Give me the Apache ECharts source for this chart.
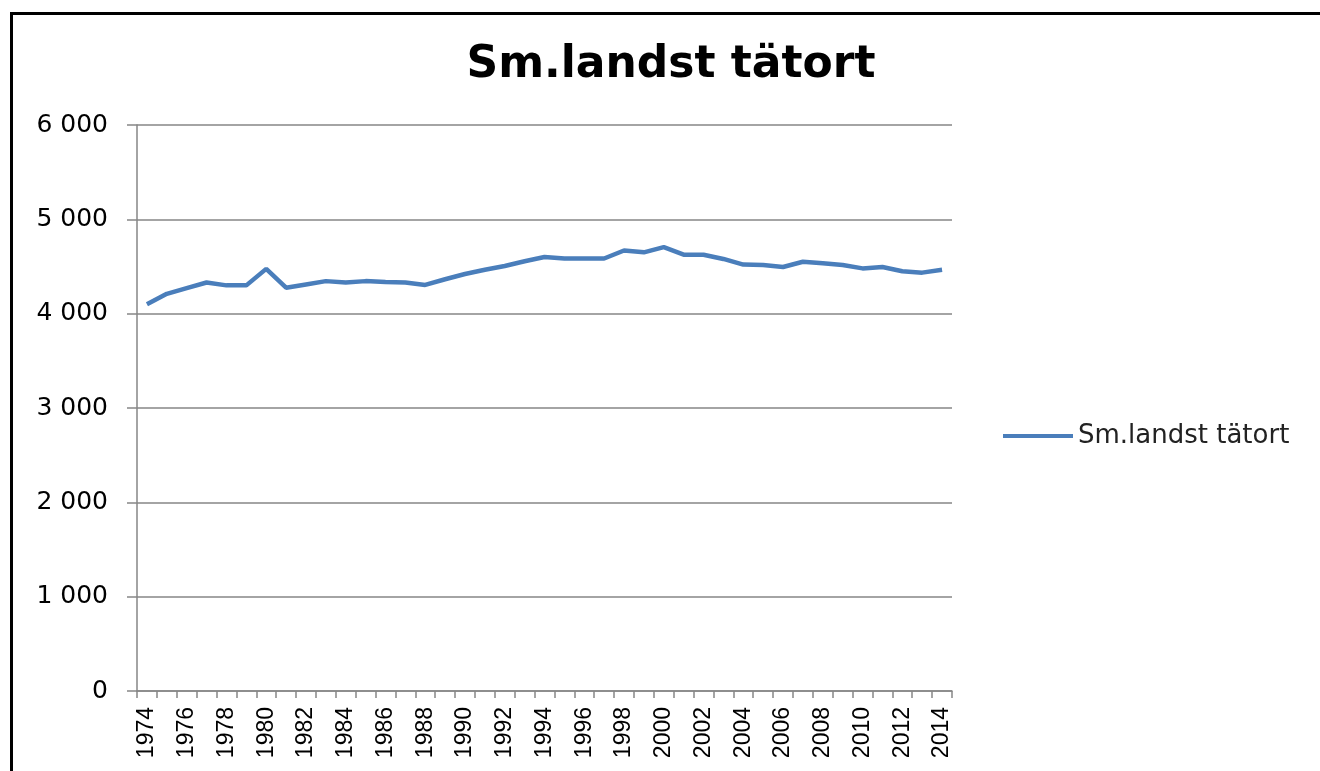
<!DOCTYPE html>
<html>
<head>
<meta charset="utf-8">
<title>Sm.landst tätort</title>
<script src="https://cdn.jsdelivr.net/npm/echarts@6/dist/echarts.min.js"></script>
<style>
  html, body { margin: 0; padding: 0; background: #fff; }
  #chart { width: 1320px; height: 771px; }
</style>
</head>
<body>
<div id="chart"></div>
<script>
// years on the category axis
const years = [];
for (let y = 1974; y <= 2014; y++) years.push(String(y));

// values
const tatort = [
  4100, 4210, 4270, 4330, 4300, 4300, 4475, 4275, 4310, 4345,
  4330, 4345, 4335, 4330, 4305, 4365, 4420, 4465, 4505, 4555,
  4600, 4585, 4585, 4585, 4670, 4650, 4705, 4625, 4625, 4580,
  4520, 4515, 4495, 4550, 4535, 4515, 4480, 4495, 4450, 4435,
  4465
];

const seriesName = 'Sm.landst tätort';
const yTicks = [0, 1000, 2000, 3000, 4000, 5000, 6000];

const fmt = v => String(v).replace(/\B(?=(\d{3})+(?!\d))/g, ' ');

const chart = echarts.init(document.getElementById('chart'));
chart.setOption({
  animation: false,
  backgroundColor: '#fff',
  graphic: [{
    type: 'rect',
    shape: { x: 11.5, y: 13.5, width: 1400, height: 900 },
    style: { fill: 'none', stroke: '#000', lineWidth: 3 },
    silent: true
  }],
  title: {
    text: seriesName,
    left: 666,
    top: 39,
    textAlign: 'center',
    textStyle: {
      fontFamily: 'DejaVu Sans',
      fontWeight: 'bold',
      fontSize: 44,
      color: '#000'
    }
  },
  legend: {
    left: 1003,
    top: 423,
    padding: 0,
    icon: 'rect',
    itemWidth: 70,
    itemHeight: 4,
    data: [seriesName],
    textStyle: { fontFamily: 'DejaVu Sans', fontSize: 26, color: '#222' }
  },
  grid: { left: 137, right: 368, top: 125, bottom: 80 },
  xAxis: {
    type: 'category',
    data: years,
    boundaryGap: true,
    axisLine: { lineStyle: { color: '#868686', width: 1.5 } },
    axisTick: { show: true, length: 7, interval: 0, lineStyle: { color: '#868686', width: 1.5 } },
    axisLabel: {
      interval: 1,
      rotate: 90,
      margin: 16,
      fontFamily: 'Liberation Sans',
      fontSize: 23,
      color: '#000'
    }
  },
  yAxis: {
    type: 'value',
    min: yTicks[0],
    max: yTicks[yTicks.length - 1],
    interval: 1000,
    axisLine: { show: true, lineStyle: { color: '#868686', width: 1.5 } },
    axisTick: { show: true, length: 10, lineStyle: { color: '#868686', width: 1.5 } },
    splitLine: { lineStyle: { color: '#868686', width: 1.5 } },
    axisLabel: {
      margin: 29,
      fontFamily: 'DejaVu Sans',
      fontSize: 25,
      color: '#000',
      formatter: fmt
    }
  },
  series: [{
    name: seriesName,
    type: 'line',
    data: tatort,
    symbol: 'none',
    color: '#4a7ebb',
    lineStyle: { width: 4.5, color: '#4a7ebb' }
  }]
});
</script>
</body>
</html>
